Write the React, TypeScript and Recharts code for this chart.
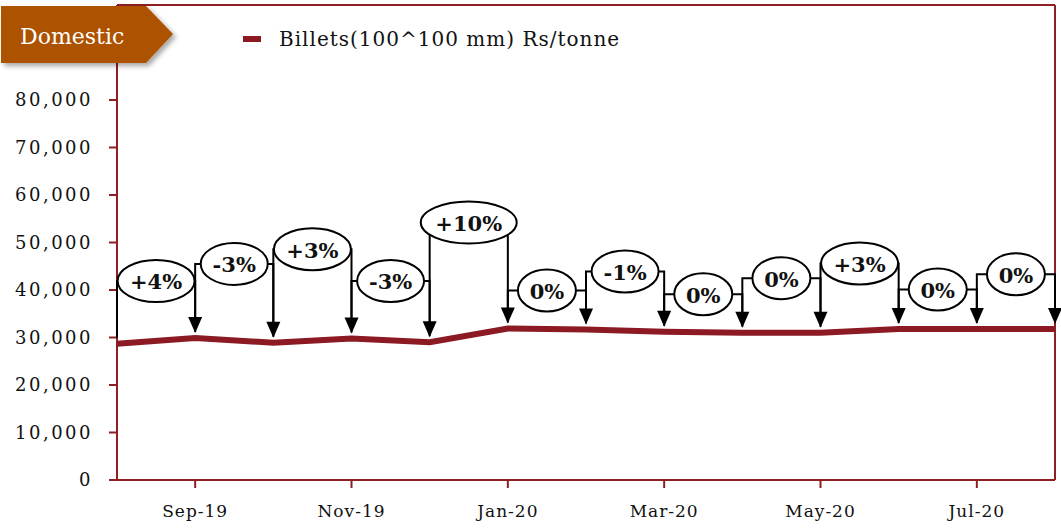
import React from 'react';
import { LineChart, Line, XAxis, YAxis, ReferenceLine } from 'recharts';

const months = ['Aug-19', 'Sep-19', 'Oct-19', 'Nov-19', 'Dec-19', 'Jan-20', 'Feb-20', 'Mar-20', 'Apr-20', 'May-20', 'Jun-20', 'Jul-20', 'Aug-20'];
const billetPrices = [28700, 29900, 28900, 29800, 29000, 31900, 31700, 31200, 31000, 31000, 31800, 31800, 31800];
// month-on-month change shown in the bubble ending at each month
const changeLabels = ['', '+4%', '-3%', '+3%', '-3%', '+10%', '0%', '-1%', '0%', '0%', '+3%', '0%', '0%'];
// height (Rs/tonne) at which each bubble sits
const bubbleLevels = [0, 41900, 45500, 48600, 41900, 54200, 39900, 43900, 39100, 42500, 45600, 40100, 43300];
const tickMonths = ['Sep-19', 'Nov-19', 'Jan-20', 'Mar-20', 'May-20', 'Jul-20'];
const yTicks = [0, 10000, 20000, 30000, 40000, 50000, 60000, 70000, 80000, 90000];

const data = months.map((m, i) => ({ month: m, price: billetPrices[i] }));

const FONT = '"DejaVu Serif", Georgia, serif';
const AXIS = '#8E1F24';
const LINE = '#8B1A22';

// value -> pixel, worked out from the points recharts already placed
const pixelOf = (pts: any[]) => {
  const a = pts[0];
  const b = pts.find((p) => p.value !== a.value) || pts[1];
  const k = (b.y - a.y) / (b.value - a.value);
  return (v: number) => a.y + (v - a.value) * k;
};

const BracketDot = (props: any) => {
  const { index, cx, cy, points } = props;
  if (!index || !points) return <g key={`br-${index}`} />;
  const prev = points[index - 1];
  const toY = pixelOf(points);
  const ly = toY(bubbleLevels[index]);
  const tip = cy - 5;
  return (
    <g key={`br-${index}`}>
      <polyline
        points={`${prev.x},${prev.y - 6} ${prev.x},${ly} ${cx},${ly} ${cx},${tip - 15}`}
        fill="none"
        stroke="#000"
        strokeWidth={2}
      />
      <polygon points={`${cx - 7},${tip - 16} ${cx + 7},${tip - 16} ${cx},${tip}`} fill="#000" />
    </g>
  );
};

const BubbleDot = (props: any) => {
  const { index, cx, points } = props;
  if (!index || !points) return <g key={`bb-${index}`} />;
  const prev = points[index - 1];
  const toY = pixelOf(points);
  const ly = toY(bubbleLevels[index]);
  const label = changeLabels[index];
  const mx = (prev.x + cx) / 2;
  const rx = 10 + 9.5 * label.length - (label.startsWith('-') ? 5 : 0);
  return (
    <g key={`bb-${index}`}>
      <ellipse cx={mx} cy={ly} rx={rx} ry={21} fill="#fff" stroke="#000" strokeWidth={2} />
      <text x={mx} y={ly + 1} textAnchor="middle" dominantBaseline="central" fontFamily={FONT} fontWeight="bold" fontSize={21} fill="#111">
        {label}
      </text>
    </g>
  );
};

const App: React.FC = () => {
  return (
    <div style={{ position: 'absolute', left: 0, top: 0, width: 1061, height: 529, background: '#fff' }}>
      <LineChart width={1061} height={529} data={data} margin={{ top: 5, right: 6, left: 0, bottom: 0 }}>
        <XAxis
          dataKey="month"
          ticks={tickMonths}
          interval={0}
          height={49}
          stroke={AXIS}
          strokeWidth={2}
          tickSize={8}
          tickMargin={17}
          tick={{ fontFamily: FONT, fontSize: 17, fill: '#111', letterSpacing: 1 }}
        />
        <YAxis
          width={117}
          domain={[0, 100000]}
          ticks={yTicks}
          stroke={AXIS}
          strokeWidth={2}
          tickSize={8}
          tickMargin={16}
          tickFormatter={(v: number) => v.toLocaleString('en-US')}
          tick={{ fontFamily: FONT, fontSize: 18, fill: '#111', letterSpacing: 2.5 }}
        />
        <ReferenceLine y={100000} stroke={AXIS} strokeWidth={2} />
        <ReferenceLine x="Aug-20" stroke={AXIS} strokeWidth={2} />
        <Line dataKey="price" stroke={LINE} strokeWidth={6} dot={false} isAnimationActive={false} legendType="none" />
        <Line dataKey="price" stroke="none" dot={BracketDot} activeDot={false} isAnimationActive={false} legendType="none" />
        <Line dataKey="price" stroke="none" dot={BubbleDot} activeDot={false} isAnimationActive={false} legendType="none" />
      </LineChart>

      <div style={{ position: 'absolute', left: 243, top: 27, display: 'flex', alignItems: 'center', fontFamily: FONT, fontSize: 20, letterSpacing: 1, color: '#111' }}>
        <span style={{ display: 'inline-block', width: 18, height: 6, background: LINE, marginRight: 18 }} />
        <span>Billets(100^100 mm) Rs/tonne</span>
      </div>

      <svg style={{ position: 'absolute', left: 0, top: 0 }} width={200} height={75}>
        <defs>
          <filter id="tagShadow" x="-10%" y="-10%" width="130%" height="140%">
            <feDropShadow dx={3} dy={3} stdDeviation={2.5} floodColor="#000" floodOpacity={0.35} />
          </filter>
        </defs>
        <polygon points="1,6 146,6 173,34 146,63 1,63" fill="#AD5300" filter="url(#tagShadow)" />
        <text x={20} y={36} dominantBaseline="central" fontFamily={FONT} fontSize={22} fill="#fff">
          Domestic
        </text>
      </svg>
    </div>
  );
};

export default App;
